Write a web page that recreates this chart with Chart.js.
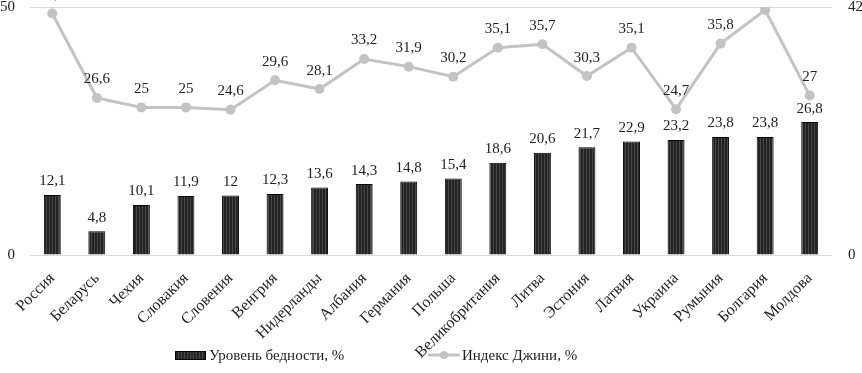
<!DOCTYPE html>
<html>
<head>
<meta charset="utf-8">
<script src="https://cdn.jsdelivr.net/npm/chart.js@4.4.1/dist/chart.umd.min.js"></script>
<style>
  html, body { margin: 0; padding: 0; background: #fff; }
  #wrap { width: 862px; height: 373px; position: relative; }
</style>
</head>
<body>
<div id="wrap"><canvas id="chart" width="862" height="373"></canvas></div>
<script>
var countries = ['Россия', 'Беларусь', 'Чехия', 'Словакия', 'Словения', 'Венгрия', 'Нидерланды', 'Албания', 'Германия',
    'Польша', 'Великобритания', 'Литва', 'Эстония', 'Латвия', 'Украина', 'Румыния', 'Болгария', 'Молдова'];
var poverty = [12.1, 4.8, 10.1, 11.9, 12, 12.3, 13.6, 14.3, 14.8, 15.4, 18.6, 20.6, 21.7, 22.9, 23.2, 23.8, 23.8, 26.8];
var gini = [40.9, 26.6, 25, 25, 24.6, 29.6, 28.1, 33.2, 31.9, 30.2, 35.1, 35.7, 30.3, 35.1, 24.7, 35.8, 41.5, 27];
var povertyTicks = [0, 50];
var giniTicks = [0, 42];

var FONT = "'Liberation Serif', 'Times New Roman', serif";
var LINE_COLOR = '#c3c3c3';

// dark hatched fill for the bars
function makePattern() {
    var c = document.createElement('canvas');
    c.width = 3; c.height = 4;
    var g = c.getContext('2d');
    g.fillStyle = '#232323';
    g.fillRect(0, 0, 3, 4);
    g.fillStyle = '#474747';
    g.fillRect(1, 0, 1, 4);
    return g.createPattern(c, 'repeat');
}
var barFill = makePattern();

function fmt(v) { return String(v).replace('.', ','); }

var valueLabels = {
    id: 'valueLabels',
    afterDatasetsDraw: function(chart) {
        var ctx = chart.ctx;
        ctx.save();
        ctx.font = '15px ' + FONT;
        ctx.fillStyle = '#222';
        ctx.textAlign = 'center';
        ctx.textBaseline = 'bottom';
        chart.data.datasets.forEach(function(ds, i) {
            var meta = chart.getDatasetMeta(i);
            meta.data.forEach(function(el, j) {
                var off = ds.type === 'line' ? 11 : 6;
                ctx.fillText(fmt(ds.data[j]), el.x, el.y - off);
            });
        });
        ctx.restore();
    }
};

// legend drawn under the axis labels
var bottomLegend = {
    id: 'bottomLegend',
    afterDraw: function(chart) {
        var ctx = chart.ctx;
        var y = 355;
        ctx.save();
        ctx.fillStyle = barFill;
        ctx.fillRect(175, y - 4, 31, 9);
        ctx.strokeStyle = '#000';
        ctx.lineWidth = 1;
        ctx.strokeRect(175.5, y - 3.5, 30, 8);

        ctx.strokeStyle = LINE_COLOR;
        ctx.lineWidth = 3;
        ctx.beginPath(); ctx.moveTo(428, y); ctx.lineTo(460, y); ctx.stroke();
        ctx.fillStyle = LINE_COLOR;
        ctx.beginPath(); ctx.arc(444, y, 4, 0, Math.PI * 2); ctx.fill();

        ctx.font = '15px ' + FONT;
        ctx.fillStyle = '#222';
        ctx.textBaseline = 'middle';
        ctx.textAlign = 'left';
        ctx.fillText(chart.data.datasets[1].label, 209, y + 1);
        ctx.fillText(chart.data.datasets[0].label, 462, y + 1);
        ctx.restore();
    }
};

function noPad(s) { s.paddingTop = 0; s.paddingBottom = 0; }

new Chart(document.getElementById('chart'), {
    data: {
        labels: countries,
        datasets: [
            {
                type: 'line',
                label: 'Индекс Джини, %',
                data: gini,
                yAxisID: 'y2',
                borderColor: LINE_COLOR,
                backgroundColor: LINE_COLOR,
                borderWidth: 3,
                pointRadius: 5,
                pointBackgroundColor: LINE_COLOR,
                pointBorderWidth: 0,
                order: 0
            },
            {
                type: 'bar',
                label: 'Уровень бедности, %',
                data: poverty,
                yAxisID: 'y',
                backgroundColor: barFill,
                borderColor: '#000',
                borderWidth: 1,
                barPercentage: 0.76,
                categoryPercentage: 0.5,
                order: 1
            }
        ]
    },
    options: {
        responsive: false,
        animation: false,
        layout: { padding: { top: 7, left: 0, right: 0, bottom: 0 } },
        scales: {
            x: {
                afterFit: function(s) { s.height = 118; s.paddingLeft = 0; s.paddingRight = 0; },
                grid: { display: false },
                border: { display: false },
                ticks: {
                    minRotation: 45, maxRotation: 45, padding: 6,
                    color: '#222',
                    font: { family: FONT, size: 16 }
                }
            },
            y: {
                position: 'left',
                min: 0, max: 50,
                afterBuildTicks: function(s) { s.ticks = povertyTicks.map(function(v) { return { value: v }; }); },
                afterFit: function(s) { s.width = 30; noPad(s); },
                grid: { color: '#d9d9d9', lineWidth: 1, drawTicks: false },
                border: { display: false },
                ticks: { color: '#222', padding: 15, font: { family: FONT, size: 15 } }
            },
            y2: {
                position: 'right',
                min: 0, max: 42,
                afterBuildTicks: function(s) { s.ticks = giniTicks.map(function(v) { return { value: v }; }); },
                afterFit: function(s) { s.width = 30; noPad(s); },
                grid: { display: false },
                border: { display: false },
                ticks: { color: '#222', padding: 8, font: { family: FONT, size: 15 } }
            }
        },
        plugins: {
            legend: { display: false },
            tooltip: { enabled: false }
        }
    },
    plugins: [valueLabels, bottomLegend]
});
</script>
</body>
</html>
